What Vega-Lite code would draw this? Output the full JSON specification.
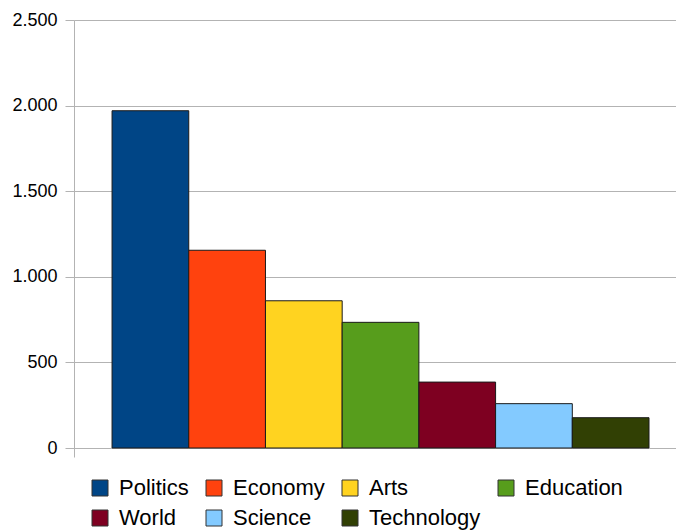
{
  "$schema": "https://vega.github.io/schema/vega-lite/v6.json",
  "autosize": {"type": "none"},
  "width": 602,
  "height": 428,
  "padding": {"left": 74, "top": 20, "right": 0, "bottom": 84},
  "background": "white",
  "data": {
    "values": [
      {"group": "A", "category": "Politics", "value": 1970},
      {"group": "A", "category": "Economy", "value": 1155},
      {"group": "A", "category": "Arts", "value": 860},
      {"group": "A", "category": "Education", "value": 734},
      {"group": "A", "category": "World", "value": 385},
      {"group": "A", "category": "Science", "value": 259},
      {"group": "A", "category": "Technology", "value": 177}
    ]
  },
  "mark": {"type": "bar", "stroke": "#1a1a1a", "strokeWidth": 1},
  "encoding": {
    "x": {
      "field": "group",
      "type": "nominal",
      "scale": {"paddingInner": 0, "paddingOuter": 0},
      "axis": {
        "labels": false,
        "title": null,
        "domain": true,
        "domainColor": "#b3b3b3",
        "ticks": true,
        "tickBand": "extent",
        "tickSize": 9,
        "tickColor": "#b3b3b3"
      }
    },
    "xOffset": {
      "field": "category",
      "type": "nominal",
      "sort": ["Politics", "Economy", "Arts", "Education", "World", "Science", "Technology"],
      "scale": {"paddingInner": 0, "paddingOuter": 0.424, "align": 0.585}
    },
    "y": {
      "field": "value",
      "type": "quantitative",
      "scale": {"domain": [0, 2500], "nice": false},
      "axis": {
        "values": [0, 500, 1000, 1500, 2000, 2500],
        "labelExpr": "replace(format(datum.value, ','), ',', '.')",
        "title": null,
        "grid": true,
        "gridColor": "#b3b3b3",
        "domain": true,
        "domainColor": "#b3b3b3",
        "tickColor": "#b3b3b3",
        "tickSize": 9,
        "labelPadding": 8,
        "labelFont": "Liberation Sans",
        "labelFontSize": 18,
        "labelColor": "#000000"
      }
    },
    "color": {
      "field": "category",
      "type": "nominal",
      "scale": {
        "domain": ["Politics", "Economy", "Arts", "Education", "World", "Science", "Technology"],
        "range": ["#004586", "#ff420e", "#ffd320", "#579d1c", "#7e0021", "#83caff", "#314004"]
      },
      "legend": {
        "orient": "none",
        "legendX": 15,
        "legendY": 457,
        "direction": "horizontal",
        "columns": 4,
        "title": null,
        "symbolType": "square",
        "symbolSize": 256,
        "symbolStrokeColor": "#333333",
        "symbolStrokeWidth": 1,
        "symbolOpacity": 1,
        "labelFont": "Liberation Sans",
        "labelFontSize": 22,
        "labelColor": "#000000",
        "labelOffset": 8,
        "labelLimit": 300,
        "columnPadding": 14,
        "rowPadding": 8
      }
    }
  },
  "config": {"view": {"stroke": null}}
}
